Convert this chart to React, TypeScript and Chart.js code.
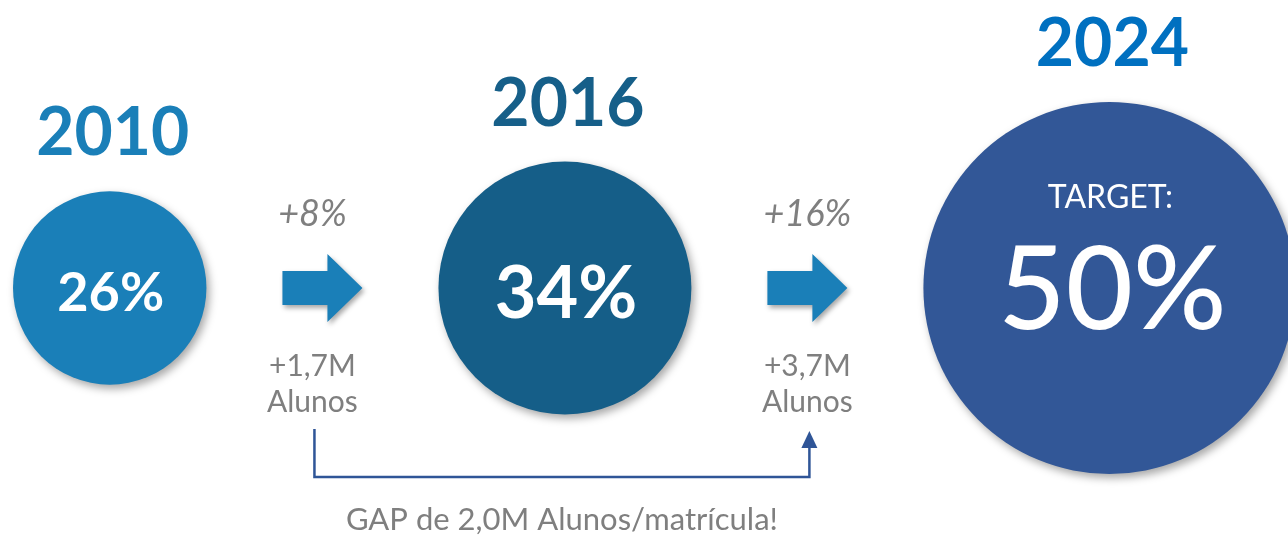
import React, { useEffect, useRef } from "react";
import { Chart, registerables, BubbleController } from "chart.js";

Chart.register(...registerables);

// Bubble controller without the automatic chart-area padding for the largest radius
class FlatBubbleController extends (BubbleController as any) {
  getMaxOverflow() {
    return 0;
  }
}
(FlatBubbleController as any).id = "flatBubble";
(FlatBubbleController as any).defaults = (BubbleController as any).defaults;
(FlatBubbleController as any).overrides = (BubbleController as any).overrides;
Chart.register(FlatBubbleController as any);

// ---- data ----
const years = ["2010", "2016", "2024"];
const rates = [26, 34, 50]; // % enrolment rate
const studentGainsM = [1.7, 3.7]; // extra students (millions) per step
const targetLabel = "TARGET:";
const gapSuffix = " Alunos/matrícula!";
const studentsWord = "Alunos";

// ---- style ----
const FONT = "Lato, 'Open Sans', sans-serif";
const circleColors = ["#1a7fb8", "#155e88", "#325797"];
const yearColors = ["#1a7fb8", "#165f89", "#0070c0"];
const arrowColor = "#1a7fb8";
const grey = "#7f7f7f";
const bracketColor = "#2f5597";
const RADIUS_PER_POINT = 3.72;
const LEFT = 13;
const GAP = 76;
const ARROW_LEN = 80;
const labelShift = [-10, 0];
const W = 1288;
const H = 536;

const fmtM = (v: number) => v.toFixed(1).replace(".", ",") + "M";

function buildBubbles() {
  let cursor = LEFT;
  return rates.map((v, i) => {
    const r = v * RADIUS_PER_POINT;
    if (i > 0) cursor += GAP * 2 + ARROW_LEN;
    const cx = cursor + r;
    cursor = cx + r;
    return { x: cx, y: 0, r };
  });
}

const infoPlugin = {
  id: "info",
  beforeDatasetDraw(chart: any) {
    const ctx = chart.ctx;
    ctx.save();
    ctx.shadowColor = "rgba(0,0,0,0.35)";
    ctx.shadowBlur = 9;
    ctx.shadowOffsetX = 3;
    ctx.shadowOffsetY = 4;
  },
  afterDatasetDraw(chart: any) {
    chart.ctx.restore();
  },
  afterDatasetsDraw(chart: any) {
    const ctx = chart.ctx as CanvasRenderingContext2D;
    const els = chart.getDatasetMeta(0).data as any[];
    ctx.save();
    ctx.textAlign = "center";
    ctx.textBaseline = "alphabetic";

    els.forEach((el, i) => {
      const r = el.options.radius;
      const cx = el.x;
      const cy = el.y;
      ctx.fillStyle = yearColors[i];
      ctx.font = `bold 66px ${FONT}`;
      ctx.fillText(years[i], cx + 3, cy - r - 36);
      ctx.fillStyle = "#ffffff";
      if (i === els.length - 1) {
        ctx.font = `32px ${FONT}`;
        ctx.fillText(targetLabel, cx + 1, cy - 80);
        ctx.font = `500 116px ${FONT}`;
        ctx.fillText(rates[i] + "%", cx + 3, cy + 41);
      } else {
        const size = i === 0 ? 54 : 72;
        ctx.font = `bold ${size}px ${FONT}`;
        ctx.fillText(rates[i] + "%", cx + 1, cy + size * 0.42);
      }
    });

    const labelCenters: number[] = [];
    let cyArrow = 0;
    for (let i = 0; i < els.length - 1; i++) {
      const a = els[i];
      const x0 = a.x + a.options.radius + GAP;
      const cy = a.y;
      cyArrow = cy;
      const bodyLen = 45;
      ctx.save();
      ctx.shadowColor = "rgba(0,0,0,0.35)";
      ctx.shadowBlur = 5;
      ctx.shadowOffsetX = 2;
      ctx.shadowOffsetY = 3;
      ctx.fillStyle = arrowColor;
      ctx.beginPath();
      ctx.moveTo(x0, cy - 17);
      ctx.lineTo(x0 + bodyLen, cy - 17);
      ctx.lineTo(x0 + bodyLen, cy - 34);
      ctx.lineTo(x0 + ARROW_LEN, cy);
      ctx.lineTo(x0 + bodyLen, cy + 34);
      ctx.lineTo(x0 + bodyLen, cy + 17);
      ctx.lineTo(x0, cy + 17);
      ctx.closePath();
      ctx.fill();
      ctx.restore();

      const lx = x0 + ARROW_LEN / 2 + labelShift[i];
      labelCenters.push(lx);
      ctx.fillStyle = grey;
      ctx.font = `italic 36px ${FONT}`;
      ctx.fillText("+" + (rates[i + 1] - rates[i]) + "%", lx, cy - 62);
      ctx.font = `30px ${FONT}`;
      ctx.fillText("+" + fmtM(studentGainsM[i]), lx, cy + 88);
      ctx.fillText(studentsWord, lx, cy + 124);
    }

    const bx0 = labelCenters[0] + 2;
    const bx1 = labelCenters[labelCenters.length - 1] + 2;
    const top = cyArrow + 141;
    const bottom = cyArrow + 189;
    ctx.strokeStyle = bracketColor;
    ctx.lineWidth = 2.5;
    ctx.beginPath();
    ctx.moveTo(bx0, top);
    ctx.lineTo(bx0, bottom);
    ctx.lineTo(bx1, bottom);
    ctx.lineTo(bx1, top + 17);
    ctx.stroke();
    ctx.fillStyle = bracketColor;
    ctx.beginPath();
    ctx.moveTo(bx1, top + 2);
    ctx.lineTo(bx1 + 8, top + 19);
    ctx.lineTo(bx1 - 8, top + 19);
    ctx.closePath();
    ctx.fill();

    const gap = studentGainsM[studentGainsM.length - 1] - studentGainsM[0];
    ctx.fillStyle = grey;
    ctx.font = `31px ${FONT}`;
    ctx.fillText("GAP de " + fmtM(gap) + gapSuffix, (bx0 + bx1) / 2, bottom + 53);
    ctx.restore();
  },
};

export default function App() {
  const ref = useRef<HTMLCanvasElement | null>(null);
  useEffect(() => {
    document.body.style.margin = "0";
    const canvas = ref.current!;
    const chart = new Chart(canvas, {
      type: "flatBubble" as any,
      data: {
        labels: years,
        datasets: [
          {
            data: buildBubbles(),
            backgroundColor: circleColors,
            borderWidth: 0,
            hoverRadius: 0,
            clip: false as any,
          },
        ],
      },
      options: {
        responsive: false,
        animation: false,
        events: [],
        layout: { padding: { top: 40, left: 0, right: 0, bottom: 0 } },
        plugins: { legend: { display: false }, tooltip: { enabled: false } },
        scales: {
          x: { type: "linear", min: 0, max: W, display: false },
          y: { type: "linear", min: -1, max: 1, display: false },
        },
      } as any,
      plugins: [infoPlugin],
    });
    (document as any).fonts?.ready?.then(() => chart.draw());
    return () => chart.destroy();
  }, []);
  return (
    <div style={{ width: W, height: H, background: "#fff" }}>
      <canvas ref={ref} width={W} height={H} style={{ display: "block" }} />
    </div>
  );
}
